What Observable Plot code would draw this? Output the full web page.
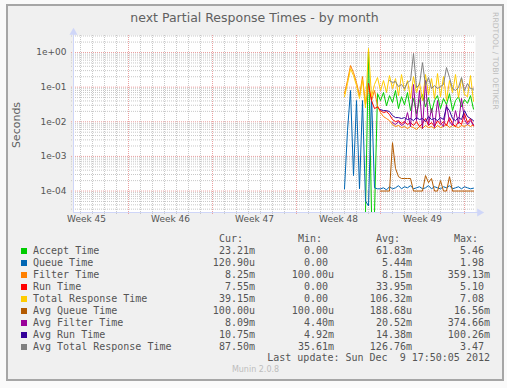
<!DOCTYPE html>
<html><head><meta charset="utf-8">
<script src="https://cdn.jsdelivr.net/npm/d3@7"></script>
<script src="https://cdn.jsdelivr.net/npm/@observablehq/plot@0.6"></script>
<style>
html,body{margin:0;padding:0;background:#fafafa;}
#wrap{position:relative;width:507px;height:388px;background:#fafafa;overflow:hidden;}
#box{position:absolute;left:6px;top:4px;width:498px;height:377px;box-sizing:border-box;border:2px solid #a6a6a6;background:#f0f0f0;}
#chart{position:absolute;left:0;top:0;}
.t{position:absolute;white-space:pre;}
.mono{font-family:"DejaVu Sans Mono",monospace;font-size:10px;line-height:12px;color:#555;}
.sw{position:absolute;width:6px;height:6px;}
</style></head>
<body>
<div id="wrap"><div id="box"></div><div id="chart"></div></div>
<script>
// ---- data ----
const seriesNames = ["Accept Time","Queue Time","Filter Time","Run Time","Total Response Time","Avg Queue Time","Avg Filter Time","Avg Run Time","Avg Total Response Time"];
const seriesColors = ["#00cc00","#0066b3","#ff8000","#ff0000","#ffcc00","#b35a00","#990099","#330099","#808080"];
const curVals = ["23.21m","120.90u","8.25m","7.55m","39.15m","100.00u","8.09m","10.75m","87.50m"];
const minVals = ["0.00","0.00","100.00u","0.00","0.00","100.00u","4.40m","4.92m","35.61m"];
const avgVals = ["61.83m","5.44m","8.15m","33.95m","106.32m","188.68u","20.52m","14.38m","126.76m"];
const maxVals = ["5.46","1.98","359.13m","5.10","7.08","16.56m","374.66m","100.26m","3.47"];
const weekLabels = ["Week 45","Week 46","Week 47","Week 48","Week 49"];
const weekTickDates = ["2012-11-07T12:00Z","2012-11-14T12:00Z","2012-11-21T12:00Z","2012-11-28T12:00Z","2012-12-05T12:00Z"].map(s=>new Date(s));
const yTicks = [1, 0.1, 0.01, 0.001, 0.0001];
const yTickLabels = ["1e+00","1e-01","1e-02","1e-03","1e-04"];
const xStart = new Date("2012-11-06T10:00Z"), xEnd = new Date("2012-12-09T22:00Z");
const yMin = 2.4e-5, yMax = 3.1;
const firstSample = new Date("2012-11-29T00:00Z"), stepHours = 6;

const accept = [0,0,0,0,0,0,0,0,1.14,0,0,0.065,0.041,0.070,0.029,0.057,0.036,0.080,0.024,0.053,0.031,0.070,0.021,0.047,0.0172,0.041,0.061,0.027,0.050,0.0184,0.041,0.057,0.024,0.047,0.031,0.065,0.021,0.041,0.053,0.027,0.044,0.034,0.057,0.0232];
const queue = [0.000116,0.0056,0.080,0.00028,0.041,0.000116,0.041,0.000052,0.000037,0.057,0.000124,0.000116,0.000116,0.000124,0.000108,0.000133,0.000116,0.000124,0.000143,0.000116,0.000133,0.000124,0.000143,0.000116,0.000124,0.000133,0.000116,0.000124,0.000143,0.000116,0.000133,0.000124,0.000116,0.000133,0.000124,0.000143,0.000116,0.000124,0.000133,0.000116,0.000133,0.000124,0.000116,0.000121];
const filter = [0.065,0.155,0.42,0.264,0.136,0.057,0.202,0.031,0.111,0.041,0.080,0.029,0.0184,0.0141,0.0124,0.0108,0.0083,0.0073,0.0078,0.0068,0.0073,0.0064,0.0073,0.0068,0.0060,0.0073,0.0064,0.0078,0.0068,0.0073,0.0064,0.0078,0.0068,0.0073,0.0083,0.0068,0.0078,0.0073,0.0068,0.0078,0.0073,0.0083,0.0073,0.00825];
const run = [null,null,null,null,null,null,null,null,0.127,0.041,0.024,0.027,0.021,0.0184,0.0197,0.0161,0.0116,0.0101,0.0108,0.0089,0.0101,0.0083,0.0095,0.0078,0.0101,0.0073,0.0089,0.0124,0.0078,0.0095,0.0073,0.0108,0.0083,0.0101,0.0078,0.0132,0.0089,0.0073,0.0101,0.0083,0.0172,0.0095,0.0124,0.00755];
const total = [0.053,0.127,0.34,0.216,0.111,0.047,0.166,0.025,1.31,0.053,0.119,0.19,0.080,0.155,0.070,0.216,0.091,0.177,0.057,0.231,0.080,0.155,0.047,0.202,0.070,0.136,0.041,0.231,0.061,0.177,0.047,0.247,0.053,0.202,0.041,0.155,0.070,0.231,0.050,0.177,0.061,0.053,0.216,0.0392];
const avgQueue = [null,null,null,null,null,null,null,null,null,null,null,null,0.0001,0.0001,0.0001,0.0001,0.0025,0.00045,0.00026,0.00023,0.00023,0.00023,0.00023,0.0001,0.0001,0.0001,0.0001,0.00028,0.000175,0.00023,0.0001,0.0001,0.0002,0.0001,0.0001,0.00026,0.0001,0.0001,0.0001,0.0001,0.0001,0.0001,0.0001,0.0001];
const avgFilter = [null,null,null,null,null,null,null,null,null,null,null,null,null,null,null,null,0.0095,0.0083,0.0101,0.0078,0.0089,0.0184,0.0073,0.119,0.0108,0.080,0.0064,0.155,0.0083,0.024,0.0068,0.041,0.0095,0.0073,0.031,0.0101,0.0078,0.021,0.0089,0.047,0.0116,0.0083,0.0108,0.00809];
const avgRun = [null,null,null,null,null,null,null,null,null,null,null,null,0.0225,0.021,0.021,0.0197,0.0151,0.0132,0.0132,0.0124,0.0132,0.0116,0.0124,0.0108,0.0132,0.0116,0.0124,0.0101,0.0141,0.0116,0.0124,0.0108,0.0132,0.0116,0.027,0.021,0.0124,0.0108,0.0132,0.0116,0.021,0.0141,0.0124,0.01075];
const avgTotal = [null,null,null,null,null,null,null,null,null,null,null,null,null,null,null,0.155,0.136,0.145,0.104,0.119,0.091,0.136,0.155,0.94,0.097,0.119,0.51,0.111,0.19,0.091,0.111,0.091,0.104,0.119,0.37,0.19,0.091,0.080,0.097,0.19,0.080,0.127,0.091,0.0875];

const seriesValues = [accept, queue, filter, run, total, avgQueue, avgFilter, avgRun, avgTotal];

// ---- build ----
const sampleTime = i => new Date(+firstSample + i * stepHours * 3600e3);
const rowsFor = vals => vals.map((v, i) => ({t: sampleTime(i), v: v === null ? NaN : (v === 0 ? yMin : v)}));

const days = d3.utcDay.range(d3.utcDay.ceil(xStart), xEnd);
const sundays = d3.utcSunday.range(d3.utcSunday.ceil(xStart), xEnd);
const minorY = [];
for (let k = -5; k <= 0; k++) for (let m = 2; m <= 9; m++) { const v = m * Math.pow(10, k); if (v > yMin && v < yMax) minorY.push(v); }
const labelByTime = new Map(weekTickDates.map((d, i) => [+d, weekLabels[i]]));
const labelByY = new Map(yTicks.map((d, i) => [d, yTickLabels[i]]));
const axisColor = "#cfd6f8";
const minorColor = "#c8c8c8";
const majorColor = "#eaa0a0";

const chart = Plot.plot({
  width: 507, height: 230,
  marginLeft: 73, marginRight: 32, marginTop: 35, marginBottom: 18,
  style: {background: "transparent", fontFamily: "'DejaVu Sans', sans-serif", fontSize: "9px", color: "#555"},
  x: {type: "utc", domain: [xStart, xEnd]},
  y: {type: "log", domain: [yMin, yMax]},
  marks: [
    Plot.frame({fill: "white", stroke: null}),
    Plot.ruleX(days, {stroke: minorColor, strokeDasharray: "1,1", insetBottom: -2}),
    Plot.ruleY(minorY, {stroke: minorColor, strokeDasharray: "1,1", insetLeft: -2}),
    Plot.ruleX(sundays, {stroke: majorColor, strokeDasharray: "1,1", insetBottom: -2}),
    Plot.ruleY(yTicks, {stroke: majorColor, strokeDasharray: "1,1", insetLeft: -2}),
    Plot.ruleY([yMin], {stroke: axisColor, insetRight: -3}),
    Plot.ruleX([xStart], {stroke: axisColor, insetTop: -3}),
    Plot.dot([{x: xEnd, y: yMin}], {x: "x", y: "y", symbol: "triangle", rotate: 90, r: 3, fill: axisColor, stroke: null, dx: 4}),
    Plot.dot([{x: xStart, y: yMax}], {x: "x", y: "y", symbol: "triangle", r: 3, fill: axisColor, stroke: null, dy: -3}),
    Plot.axisX({ticks: weekTickDates, tickFormat: d => labelByTime.get(+d), tickSize: 0, tickPadding: 3, label: null}),
    Plot.axisY({ticks: yTicks, tickFormat: d => labelByY.get(d), tickSize: 0, tickPadding: 7, label: null}),
    ...seriesValues.map((vals, i) => Plot.line(rowsFor(vals), {x: "t", y: "v", stroke: seriesColors[i], strokeWidth: 1, clip: true}))
  ]
});
document.getElementById("chart").appendChild(chart);

// ---- texts ----
const wrap = document.getElementById("wrap");
function addText(txt, css, cls) {
  const el = document.createElement("div");
  el.className = "t " + (cls || "");
  el.textContent = txt;
  el.style.cssText += css;
  wrap.appendChild(el);
  return el;
}
addText("next Partial Response Times - by month", "left:0;width:509px;text-align:center;top:10px;font-family:'DejaVu Sans';font-size:12.5px;line-height:16px;color:#606060;");
addText("Seconds", "left:17px;top:125px;transform:translate(-50%,-50%) rotate(-90deg);font-family:'DejaVu Sans';font-size:11px;line-height:12px;color:#606060;");
addText("RRDTOOL / TOBI OETIKER", "left:495px;top:61px;transform:translate(-50%,-50%) rotate(90deg);font-family:'DejaVu Sans';font-size:7.6px;line-height:9px;color:#bdbdbd;");

const colRight = [255, 334, 412, 490];
const headers = ["Cur:", "Min:", "Avg:", "Max:"];
const pad = s => /\d$/.test(s) ? s + " " : s;
headers.forEach((h, j) => addText(h + "  ", `right:${507 - colRight[j]}px;top:233px;`, "mono"));
seriesNames.forEach((name, i) => {
  const top = 245 + 12 * i;
  const sw = document.createElement("div");
  sw.className = "sw";
  sw.style.cssText = `left:21px;top:${top + 3}px;background:${seriesColors[i]};`;
  wrap.appendChild(sw);
  addText(name, `left:33px;top:${top}px;`, "mono");
  [curVals[i], minVals[i], avgVals[i], maxVals[i]].forEach((v, j) => addText(pad(v), `right:${507 - colRight[j]}px;top:${top}px;`, "mono"));
});
addText("Last update: Sun Dec  9 17:50:05 2012", `right:${507 - 490}px;top:352px;`, "mono");
addText("Munin 2.0.8", "left:0;width:511px;text-align:center;top:365px;font-family:'DejaVu Sans';font-size:8px;line-height:10px;color:#bdbdbd;");
</script>
</body></html>
